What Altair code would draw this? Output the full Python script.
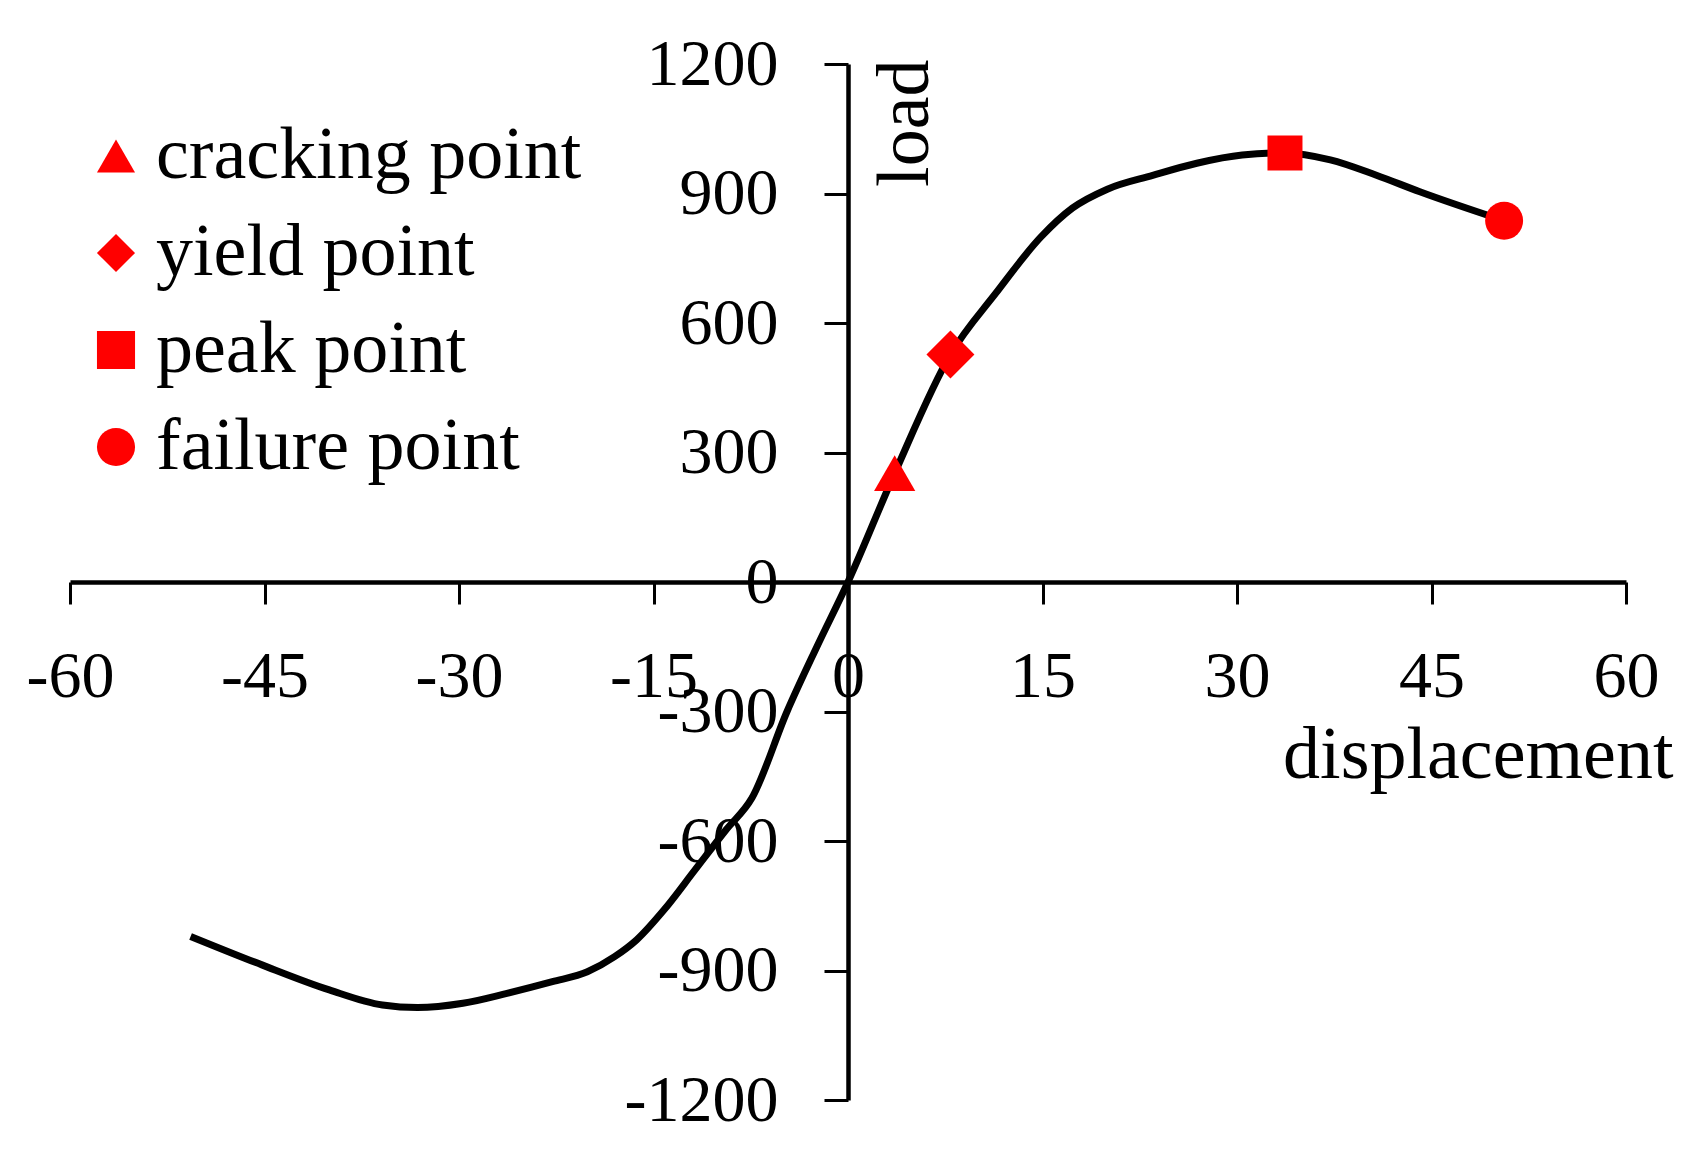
import altair as alt
import pandas as pd

# curve data (displacement, load)
disp = [-50.7, -45.2, -40.0, -35.9, -33.2, -29.7, -26.3, -22.8, -20.1, -18.0,
        -16.3, -14.2, -11.8, -9.4, -7.4, -4.7, -2.4, 0.0, 3.6, 7.9, 11.4,
        14.9, 17.3, 20.0, 23.5, 26.9, 30.4, 33.7, 37.2, 40.7, 44.1, 50.6]
load = [-821, -887, -945, -980, -986, -976, -953, -926, -903, -868,
        -829, -760, -667, -574, -500, -300, -150, 0, 252, 527, 669,
        800, 866, 910, 942, 970, 989, 994, 978, 943, 904, 837]

# characteristic points
pt_names = ["cracking point", "yield point", "peak point", "failure point"]
pt_disp = [3.6, 7.9, 33.7, 50.6]
pt_load = [252, 527, 994, 837]
pt_shapes = ["triangle-up", "diamond", "square", "circle"]
pt_sizes = [1700, 2300, 1225, 1444]

x_ticks = [-60, -45, -30, -15, 0, 15, 30, 45, 60]
y_ticks = [-1200, -900, -600, -300, 0, 300, 600, 900, 1200]

W, H = 1556, 1036
FONT = "Liberation Serif"
FS = 66
TFS = 74

curve = pd.DataFrame({"displacement": disp, "load": load})
pts = pd.DataFrame({"displacement": pt_disp, "load": pt_load,
                    "type": pt_names, "sz": pt_sizes})

xscale = alt.Scale(domain=[-60, 60], nice=False, zero=False)
yscale = alt.Scale(domain=[-1200, 1200], nice=False, zero=False)

xaxis = alt.Axis(
    orient="bottom", offset=-H / 2, values=x_ticks, grid=False,
    labelExpr="'' + datum.value", labelFont=FONT, labelFontSize=FS,
    labelColor="black", labelPadding=40, labelFlush=False, labelOverlap=False,
    tickSize=22, tickWidth=3, tickColor="black",
    domainColor="black", domainWidth=4.5,
    title="displacement", titleFont=FONT, titleFontSize=TFS,
    titleFontWeight="normal", titleColor="black",
    titleX=1603, titleY=173, titleAlign="right", titleBaseline="middle",
)
yaxis = alt.Axis(
    orient="left", offset=-W / 2, values=y_ticks, grid=False,
    labelExpr="'' + datum.value", labelFont=FONT, labelFontSize=FS,
    labelColor="black", labelPadding=46, labelFlush=False, labelOverlap=False,
    tickSize=24, tickWidth=3, tickColor="black",
    domainColor="black", domainWidth=4.5,
    title="load", titleFont=FONT, titleFontSize=TFS,
    titleFontWeight="normal", titleColor="black",
    titleAngle=270, titleX=57, titleY=-5, titleAlign="right",
    titleBaseline="middle",
)

line = alt.Chart(curve).mark_line(
    color="black", strokeWidth=7, interpolate="monotone"
).encode(
    x=alt.X("displacement:Q", scale=xscale, axis=xaxis),
    y=alt.Y("load:Q", scale=yscale, axis=yaxis),
)

points = alt.Chart(pts).mark_point(
    filled=True, color="#ff0000", opacity=1, strokeWidth=0
).encode(
    x=alt.X("displacement:Q", scale=xscale),
    y=alt.Y("load:Q", scale=yscale),
    shape=alt.Shape(
        "type:N",
        scale=alt.Scale(domain=pt_names, range=pt_shapes),
        legend=alt.Legend(
            title=None, orient="none", legendX=9, legendY=55,
            labelFont=FONT, labelFontSize=74, labelColor="black",
            symbolSize=1450, symbolFillColor="#ff0000", symbolStrokeWidth=0,
            symbolOpacity=1, rowPadding=23, labelOffset=3, padding=0,
            labelLimit=800,
        ),
    ),
    size=alt.Size("sz:Q", scale=None),
)

chart = alt.layer(line, points).properties(
    width=W, height=H, background="white",
    autosize=alt.AutoSizeParams(type="none"),
    padding={"left": 62, "top": 56, "right": 60, "bottom": 40},
).configure_view(stroke=None)

chart.save("out.html", embed_options={"renderer": "svg", "actions": False})
